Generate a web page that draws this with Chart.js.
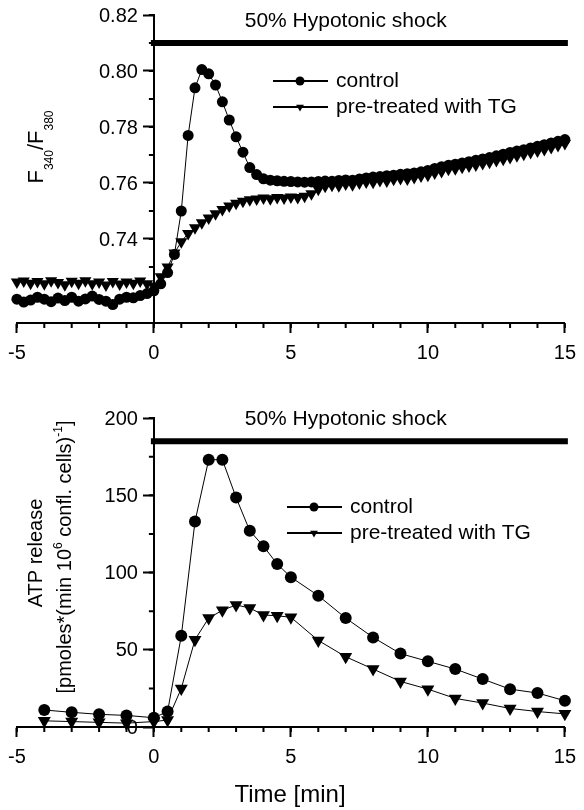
<!DOCTYPE html>
<html>
<head>
<meta charset="utf-8">
<script src="https://cdn.jsdelivr.net/npm/chart.js@4.4.0/dist/chart.umd.min.js"></script>
<style>
  body { margin: 0; background: #fff; }
  #wrap { position: relative; width: 584px; height: 810px; }
  canvas { position: absolute; left: 0; }
  #fluoChart { top: 0; }
  #atpChart { top: 380px; }
</style>
</head>
<body>
<div id="wrap">
  <canvas id="fluoChart" width="584" height="380"></canvas>
  <canvas id="atpChart" width="584" height="430"></canvas>
</div>
<script>
const seriesLabels = ["control", "pre-treated with TG"];
const shockLabel = "50% Hypotonic shock";
const shockStart = 0;
const shockEnd = 15;

// top panel: Fura-2 ratio, one point every 15 s
const fluoTime = [
  -5, -4.75, -4.5, -4.25, -4, -3.75, -3.5, -3.25, -3, -2.75, -2.5, -2.25, -2, -1.75, -1.5, -1.25, -1, -0.75, -0.5, -0.25,
  0, 0.25, 0.5, 0.75, 1, 1.25, 1.5, 1.75, 2, 2.25, 2.5, 2.75, 3, 3.25, 3.5, 3.75, 4, 4.25, 4.5, 4.75,
  5, 5.25, 5.5, 5.75, 6, 6.25, 6.5, 6.75, 7, 7.25, 7.5, 7.75, 8, 8.25, 8.5, 8.75, 9, 9.25, 9.5, 9.75,
  10, 10.25, 10.5, 10.75, 11, 11.25, 11.5, 11.75, 12, 12.25, 12.5, 12.75, 13, 13.25, 13.5, 13.75, 14, 14.25, 14.5, 14.75, 15
];
const fluoControl = [
  0.7185, 0.7175, 0.7182, 0.7192, 0.7185, 0.7176, 0.7189, 0.7180, 0.7192, 0.7178, 0.7186, 0.7196, 0.7184, 0.7178, 0.7166, 0.7185, 0.7192, 0.7190, 0.7198, 0.7205,
  0.7215, 0.7240, 0.7280, 0.7345, 0.7500, 0.7770, 0.7940, 0.8005, 0.7990, 0.7950, 0.7890, 0.7825, 0.7765, 0.7710, 0.7655, 0.7630, 0.7615, 0.7610, 0.7608, 0.7606,
  0.7605, 0.7604, 0.7603, 0.7604, 0.7605, 0.7607, 0.7606, 0.7609, 0.7611, 0.7610, 0.7614, 0.7618, 0.7621, 0.7623, 0.7626, 0.7628, 0.7631, 0.7633, 0.7636, 0.7640,
  0.7645, 0.7652, 0.7658, 0.7663, 0.7667, 0.7671, 0.7676, 0.7681, 0.7686, 0.7691, 0.7697, 0.7703, 0.7709, 0.7714, 0.7719, 0.7725, 0.7731, 0.7737, 0.7743, 0.7749, 0.7755
];
const fluoTG = [
  0.7246, 0.7250, 0.7242, 0.7248, 0.7240, 0.7251, 0.7245, 0.7237, 0.7249, 0.7242, 0.7251, 0.7240, 0.7246, 0.7236, 0.7248, 0.7239, 0.7246, 0.7242, 0.7250, 0.7240,
  0.7232, 0.7265, 0.7300, 0.7350, 0.7390, 0.7420, 0.7440, 0.7458, 0.7475, 0.7490, 0.7505, 0.7518, 0.7528, 0.7535, 0.7540, 0.7543, 0.7546, 0.7544, 0.7548, 0.7546,
  0.7550, 0.7548, 0.7553, 0.7562, 0.7578, 0.7588, 0.7592, 0.7590, 0.7596, 0.7594, 0.7600, 0.7604, 0.7603, 0.7609, 0.7607, 0.7613, 0.7616, 0.7614, 0.7620, 0.7625,
  0.7628, 0.7636, 0.7641, 0.7649, 0.7651, 0.7656, 0.7661, 0.7664, 0.7670, 0.7674, 0.7680, 0.7685, 0.7691, 0.7697, 0.7703, 0.7709, 0.7714, 0.7720, 0.7727, 0.7734, 0.7741
];
const fluoShockLevel = 0.81;

// bottom panel: ATP release
const atpTime = [-4, -3, -2, -1, 0, 0.5, 1, 1.5, 2, 2.5, 3, 3.5, 4, 4.5, 5, 6, 7, 8, 9, 10, 11, 12, 13, 14, 15];
const atpControl = [11, 9.5, 8.2, 7.5, 6, 10, 59, 133, 173, 173, 148.5, 127, 117, 105.5, 97, 85, 70.5, 58, 47.5, 42.5, 37.5, 31, 24.5, 22, 17];
const atpTG = [4, 3.5, 3, 2.5, 3.5, 4.5, 25, 56.5, 70.5, 75.5, 79, 77, 72.5, 72, 71, 56, 45.5, 37.5, 29.5, 24.5, 18.5, 15.5, 12, 10, 8.5];
const atpShockLevel = 185;

const FONT = '"Liberation Sans", Arial, Helvetica, sans-serif';

function points(xs, ys) {
  return xs.map((x, i) => ({ x: x, y: ys[i] }));
}

function seriesSets(time, ctrl, tg, circleR, triR) {
  return [
    {
      label: seriesLabels[0], data: points(time, ctrl),
      borderColor: "#000", borderWidth: 1, pointStyle: "circle", pointRadius: circleR,
      pointBackgroundColor: "#000", pointBorderWidth: 0, clip: false
    },
    {
      label: seriesLabels[1], data: points(time, tg),
      borderColor: "#000", borderWidth: 1, pointStyle: "triangle", pointRotation: 180, pointRadius: triR,
      pointBackgroundColor: "#000", pointBorderWidth: 0, clip: false
    }
  ];
}

function shockSet(level) {
  return {
    label: shockLabel, data: [{ x: shockStart, y: level }, { x: shockEnd, y: level }],
    borderColor: "#000", borderWidth: 6, borderCapStyle: "square", pointRadius: 0, clip: false
  };
}

function xAxis(height) {
  return {
    type: "linear", min: -5, max: 15,
    ticks: { stepSize: 5, color: "#000", font: { family: FONT, size: 20 }, padding: 8, maxRotation: 0 },
    grid: { drawOnChartArea: false, tickLength: 10, tickWidth: 2, tickColor: "#000" },
    border: { display: true, color: "#000", width: 2 },
    afterFit: s => { s.height = height; }
  };
}

function rotatedText(ctx, parts, cx, cy) {
  // vertical text made of pieces: [text, size, baseline shift]
  ctx.save();
  ctx.translate(cx, cy);
  ctx.rotate(-Math.PI / 2);
  ctx.fillStyle = "#000";
  ctx.textAlign = "left";
  ctx.textBaseline = "alphabetic";
  let total = 0;
  parts.forEach(p => { ctx.font = p[1] + "px " + FONT; total += ctx.measureText(p[0]).width; });
  let x = -total / 2;
  parts.forEach(p => {
    ctx.font = p[1] + "px " + FONT;
    ctx.fillText(p[0], x, p[2]);
    x += ctx.measureText(p[0]).width;
  });
  ctx.restore();
}

const titleDrawers = {
  fluo: ctx => {
    rotatedText(ctx, [["F", 22, 0], ["340", 12, 10], ["/", 22, 0], ["F", 22, 0], ["380", 12, 10]], 43, 147);
  },
  atp: ctx => {
    rotatedText(ctx, [["ATP release", 20, 0]], 42, 173);
    rotatedText(ctx, [["[pmoles*(min 10", 20, 0], ["6", 12, -9], [" confl. cells)", 20, 0], ["-1", 12, -9], ["]", 20, 0]], 71, 177);
    ctx.save();
    ctx.font = "24px " + FONT;
    ctx.fillStyle = "#000";
    ctx.textAlign = "center";
    ctx.textBaseline = "alphabetic";
    ctx.fillText("Time [min]", 290, 422);
    ctx.restore();
  }
};

// minor ticks, y labels, shock label, legend, titles
function decorate(chart, cfg) {
  const ctx = chart.ctx;
  const xs = chart.scales.x, ys = chart.scales.y;
  const axisX = xs.getPixelForValue(0);
  const axisY = xs.top;
  ctx.save();
  ctx.strokeStyle = "#000";
  ctx.fillStyle = "#000";
  ctx.lineWidth = 2;
  ctx.beginPath();
  for (let v = xs.min; v <= xs.max + 1e-9; v += 1) {
    const px = xs.getPixelForValue(v);
    ctx.moveTo(px, axisY); ctx.lineTo(px, axisY + 5);
  }
  for (let v = cfg.minorFrom; v <= ys.max + 1e-9; v += cfg.minorStep) {
    const py = ys.getPixelForValue(v);
    ctx.moveTo(axisX, py); ctx.lineTo(axisX - 5, py);
  }
  ctx.stroke();

  // y tick labels, right aligned against the axis
  ctx.font = "20px " + FONT;
  ctx.textAlign = "right";
  ctx.textBaseline = "middle";
  ys.ticks.forEach(t => {
    if (t.value >= cfg.labelFrom) {
      ctx.fillText(t.value.toFixed(cfg.decimals), axisX - 16, ys.getPixelForValue(t.value) + 1);
    }
  });

  // shock label above the bar
  ctx.font = "21px " + FONT;
  ctx.textAlign = "center";
  ctx.fillText(shockLabel, xs.getPixelForValue(7), ys.getPixelForValue(cfg.shockLevel) - 22);

  // legend
  chart.data.datasets.slice(0, 2).forEach((ds, i) => {
    const y = cfg.legendY + i * 26;
    ctx.lineWidth = 2;
    ctx.beginPath();
    ctx.moveTo(cfg.legendX, y); ctx.lineTo(cfg.legendX + 55, y);
    ctx.stroke();
    Chart.helpers.drawPoint(ctx, { pointStyle: ds.pointStyle, rotation: ds.pointRotation || 0, radius: 4.5, borderWidth: 0 }, cfg.legendX + 27, y);
    ctx.textAlign = "left";
    ctx.font = "21px " + FONT;
    ctx.fillText(ds.label, cfg.legendX + 63, y);
  });
  ctx.restore();

  titleDrawers[cfg.titles](ctx);
}

const decorPlugin = {
  id: "decor",
  afterDraw(chart) { decorate(chart, chart.options.plugins.decor); }
};

const fluoChart = new Chart(document.getElementById("fluoChart"), {
  type: "line",
  data: { datasets: seriesSets(fluoTime, fluoControl, fluoTG, 5.5, 7).concat([shockSet(fluoShockLevel)]) },
  plugins: [decorPlugin],
  options: {
    responsive: false, animation: false, devicePixelRatio: 1,
    layout: { padding: { left: 10, right: 14, top: 15, bottom: 0 } },
    elements: { line: { tension: 0 } },
    plugins: {
      legend: { display: false }, tooltip: { enabled: false },
      decor: {
        minorFrom: 0.73, minorStep: 0.01, labelFrom: 0.735, decimals: 2,
        shockLevel: fluoShockLevel, legendX: 273, legendY: 81, titles: "fluo"
      }
    },
    scales: {
      x: xAxis(57),
      y: {
        type: "linear", position: { x: 0 }, min: 0.71, max: 0.82,
        ticks: { stepSize: 0.02, includeBounds: true, callback: () => "" },
        grid: {
          drawOnChartArea: false, tickLength: 10, tickWidth: 2,
          tickColor: c => (c.tick && c.tick.value < 0.735) ? "rgba(0,0,0,0)" : "#000"
        },
        border: { display: true, color: "#000", width: 2 }
      }
    }
  }
});

const atpChart = new Chart(document.getElementById("atpChart"), {
  type: "line",
  data: { datasets: seriesSets(atpTime, atpControl, atpTG, 6, 7.5).concat([shockSet(atpShockLevel)]) },
  plugins: [decorPlugin],
  options: {
    responsive: false, animation: false, devicePixelRatio: 1,
    layout: { padding: { left: 10, right: 14, top: 38, bottom: 0 } },
    elements: { line: { tension: 0 } },
    plugins: {
      legend: { display: false }, tooltip: { enabled: false },
      decor: {
        minorFrom: 0, minorStep: 25, labelFrom: 0, decimals: 0,
        shockLevel: atpShockLevel, legendX: 287, legendY: 127, titles: "atp"
      }
    },
    scales: {
      x: xAxis(83),
      y: {
        type: "linear", position: { x: 0 }, min: 0, max: 200,
        ticks: { stepSize: 50, callback: () => "" },
        grid: { drawOnChartArea: false, tickLength: 10, tickWidth: 2, tickColor: "#000" },
        border: { display: true, color: "#000", width: 2 }
      }
    }
  }
});
</script>
</body>
</html>
